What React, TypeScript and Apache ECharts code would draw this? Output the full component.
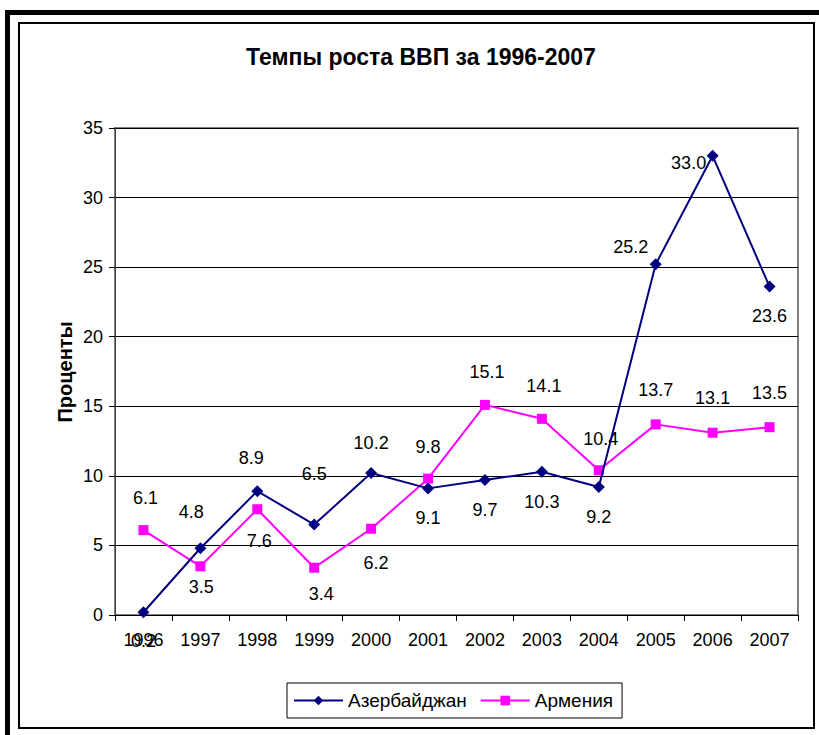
import React, { useEffect, useRef } from "react";
import * as echarts from "echarts";

const years = ["1996", "1997", "1998", "1999", "2000", "2001", "2002", "2003", "2004", "2005", "2006", "2007"];
const azerbaijan = [0.2, 4.8, 8.9, 6.5, 10.2, 9.1, 9.7, 10.3, 9.2, 25.2, 33.0, 23.6];
const armenia = [6.1, 3.5, 7.6, 3.4, 6.2, 9.8, 15.1, 14.1, 10.4, 13.7, 13.1, 13.5];
const seriesNames = ["Азербайджан", "Армения"];
const titleText = "Темпы роста ВВП за 1996-2007";
const yAxisTitle = "Проценты";
const yMin = 0;
const yMax = 35;
const yStep = 5;

// label placement (style only)
const azLabelOffsets = [
  [0, 29], [-9, -36], [-6, -33], [0, -51], [0, -30], [0, 30],
  [0, 30], [0, 30], [0, 30], [-25, -17], [-24, 7], [0, 29],
];
const arLabelOffsets = [
  [2, -32], [1, 21], [2, 32], [7, 26], [5, 34], [0, -32],
  [2, -33], [2, -33], [2, -31], [0, -34], [0, -35], [0, -34],
];

const FONT = "'Liberation Sans', Arial, sans-serif";

export default function App() {
  const ref = useRef<HTMLDivElement>(null);

  useEffect(() => {
    if (!ref.current) return;
    const chart = echarts.init(ref.current, null, { renderer: "svg" });
    const labelBase = {
      show: true,
      position: "inside",
      color: "#000",
      fontSize: 18,
      fontFamily: FONT,
      formatter: (p: any) => Number(p.value).toFixed(1),
    };
    chart.setOption({
      animation: false,
      backgroundColor: "#fff",
      textStyle: { fontFamily: FONT },
      graphic: [
        { type: "rect", shape: { x: 5, y: 10, width: 5, height: 725 }, style: { fill: "#000" } },
        { type: "rect", shape: { x: 5, y: 10, width: 814, height: 5 }, style: { fill: "#000" } },
        {
          type: "rect",
          shape: { x: 19, y: 23, width: 795, height: 705 },
          style: { fill: "none", stroke: "#000", lineWidth: 2 },
        },
        {
          type: "text",
          x: 421,
          y: 57,
          style: {
            text: titleText,
            fontSize: 23,
            fontWeight: "bold",
            fontFamily: FONT,
            fill: "#000",
            textAlign: "center",
            textVerticalAlign: "middle",
          },
        },
        {
          type: "text",
          x: 65,
          y: 372,
          rotation: Math.PI / 2,
          style: {
            text: yAxisTitle,
            fontSize: 20,
            fontWeight: "bold",
            fontFamily: FONT,
            fill: "#000",
            textAlign: "center",
            textVerticalAlign: "middle",
          },
        },
      ],
      grid: {
        left: 115,
        right: 21,
        top: 128,
        bottom: 120,
        show: true,
        borderColor: "#808080",
        borderWidth: 2,
        backgroundColor: "transparent",
      },
      legend: {
        left: 287,
        top: 683,
        orient: "horizontal",
        itemWidth: 49,
        itemHeight: 12,
        itemGap: 13,
        padding: [8, 9, 8, 6],
        borderColor: "#000",
        borderWidth: 1,
        textStyle: { fontSize: 19, color: "#000", fontFamily: FONT },
        data: seriesNames,
      },
      xAxis: {
        type: "category",
        data: years,
        boundaryGap: true,
        axisLine: { lineStyle: { color: "#000", width: 1 } },
        axisTick: { show: true, length: 6, inside: false, lineStyle: { color: "#000" } },
        axisLabel: { fontSize: 18, color: "#000", margin: 16, fontFamily: FONT },
        splitLine: { show: false },
      },
      yAxis: {
        type: "value",
        min: yMin,
        max: yMax,
        interval: yStep,
        axisLine: { show: true, lineStyle: { color: "#404040", width: 1 } },
        axisTick: { show: true, length: 6, lineStyle: { color: "#000" } },
        axisLabel: { fontSize: 18, color: "#000", margin: 12, fontFamily: FONT },
        splitLine: { show: true, lineStyle: { color: "#000", width: 1 } },
      },
      series: [
        {
          name: seriesNames[0],
          type: "line",
          data: azerbaijan.map((v, i) => ({ value: v, label: { offset: azLabelOffsets[i] } })),
          symbol: "diamond",
          symbolSize: 12,
          itemStyle: { color: "#000080" },
          lineStyle: { color: "#000080", width: 2 },
          label: labelBase,
          z: 3,
        },
        {
          name: seriesNames[1],
          type: "line",
          data: armenia.map((v, i) => ({ value: v, label: { offset: arLabelOffsets[i] } })),
          symbol: "rect",
          symbolSize: 10,
          itemStyle: { color: "#FF00FF" },
          lineStyle: { color: "#FF00FF", width: 2 },
          label: labelBase,
          z: 2,
        },
      ],
    });
    return () => chart.dispose();
  }, []);

  return (
    <div
      ref={ref}
      style={{ position: "absolute", left: 0, top: 0, width: 819, height: 735 }}
    />
  );
}
